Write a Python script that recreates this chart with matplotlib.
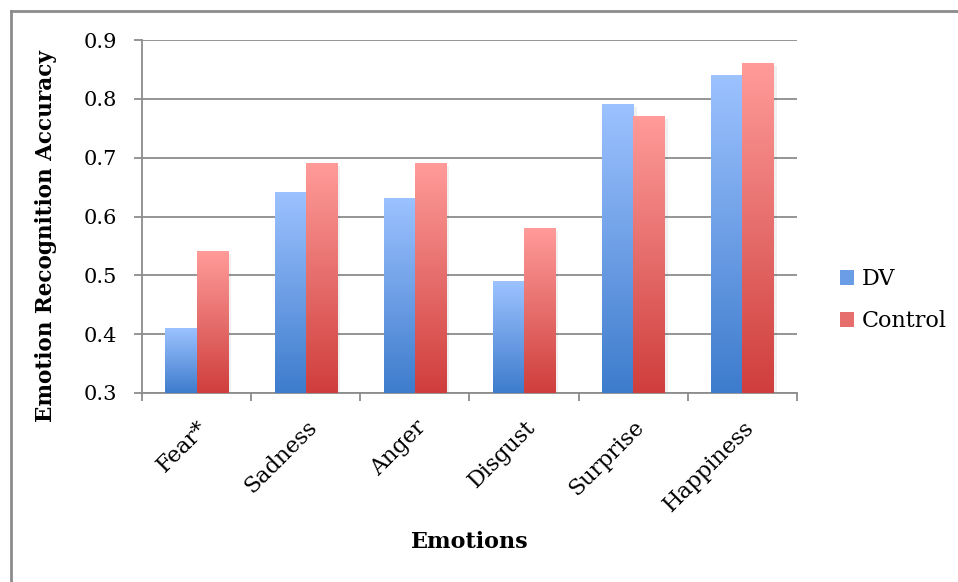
import numpy as np
import matplotlib
matplotlib.use("Agg")
import matplotlib.pyplot as plt
from matplotlib.lines import Line2D
from matplotlib.patches import Patch
from matplotlib.colors import LinearSegmentedColormap

# Accuracy per emotion for the two groups
emotions = ["Fear*", "Sadness", "Anger", "Disgust", "Surprise", "Happiness"]
dv = [0.41, 0.64, 0.63, 0.49, 0.79, 0.84]
control = [0.54, 0.69, 0.69, 0.58, 0.77, 0.86]
series_names = ["DV", "Control"]

plt.rcParams["font.family"] = ["DejaVu Serif"]

blue_cmap = LinearSegmentedColormap.from_list("blue_grad", ["#3d7ccc", "#6e9fe6", "#9cc2ff"])
red_cmap = LinearSegmentedColormap.from_list("red_grad", ["#cf3e3c", "#e66e6c", "#ff9b99"])

fig = plt.figure(figsize=(9.58, 5.82), dpi=100)
ax = fig.add_axes([142 / 958, 1 - 393 / 582, (797 - 142) / 958, (393 - 40) / 582])

x = np.arange(len(emotions))
w = 0.285
bars_dv = ax.bar(x - w / 2, dv, w, color="none", zorder=3)
bars_ct = ax.bar(x + w / 2, control, w, color="none", zorder=3)


def fill_gradient(bars, cmap, base=0.3):
    grad = np.linspace(0, 1, 256).reshape(-1, 1)
    for b in bars:
        x0 = b.get_x()
        x1 = x0 + b.get_width()
        top = b.get_height()
        # soft shadow on the right side
        ax.fill_between([x1, x1 + 0.03], base, top - 0.004, color="#000000",
                        alpha=0.06, lw=0, zorder=2)
        ax.imshow(grad, cmap=cmap, origin="lower", aspect="auto",
                  extent=[x0, x1, base, top], zorder=3, interpolation="bilinear")


fill_gradient(bars_dv, blue_cmap)
fill_gradient(bars_ct, red_cmap)

ax.set_xlim(-0.5, len(emotions) - 0.5)
ax.set_ylim(0.3, 0.9)
yt = np.arange(0.3, 0.91, 0.1)
ax.set_yticks(yt)
ax.set_yticklabels([f"{t:.1f}" for t in yt])
ax.yaxis.grid(True, color="#8c8c8c", lw=1.3, zorder=1)
ax.set_axisbelow(True)

ax.set_xticks(x)
ax.set_xticklabels(emotions, rotation=45, ha="right", va="top",
                   rotation_mode="anchor")
ax.set_xticks(np.arange(-0.5, len(emotions)), minor=True)
ax.tick_params(axis="x", which="major", length=0, pad=17, labelsize=16)
ax.tick_params(axis="x", which="minor", length=6, color="#8c8c8c", width=1.3)
ax.tick_params(axis="y", length=6, color="#8c8c8c", width=1.3, pad=12,
               labelsize=15)

for side in ["top", "right"]:
    ax.spines[side].set_visible(False)
for side in ["left", "bottom"]:
    ax.spines[side].set_color("#8c8c8c")
    ax.spines[side].set_linewidth(1.3)

ax.set_ylabel("Emotion Recognition Accuracy", fontsize=15.5, fontweight="bold")
ax.set_xlabel("Emotions", fontsize=16, fontweight="bold")
ax.xaxis.set_label_coords(0.5, (393 - 531) / 353)
ax.yaxis.set_label_coords((57 - 142) / 655, (393 - 236) / 353)

handles = [Patch(facecolor="#6b9de6", edgecolor="none"),
           Patch(facecolor="#e66e6c", edgecolor="none")]
fig.legend(handles, series_names, loc="center left",
           bbox_to_anchor=(840 / 958, 1 - 300 / 582), frameon=False,
           fontsize=16, handlelength=0.65, handleheight=0.65,
           handletextpad=0.35, labelspacing=0.9, borderpad=0,
           borderaxespad=0)

# outer frame of the chart area
fig.add_artist(Line2D([11 / 958, 11 / 958], [0, 1 - 11 / 582],
                      transform=fig.transFigure, color="#8c8c8c", lw=2))
fig.add_artist(Line2D([11 / 958, 1], [1 - 11 / 582, 1 - 11 / 582],
                      transform=fig.transFigure, color="#8c8c8c", lw=2))

fig.savefig("out.png", dpi=100)
